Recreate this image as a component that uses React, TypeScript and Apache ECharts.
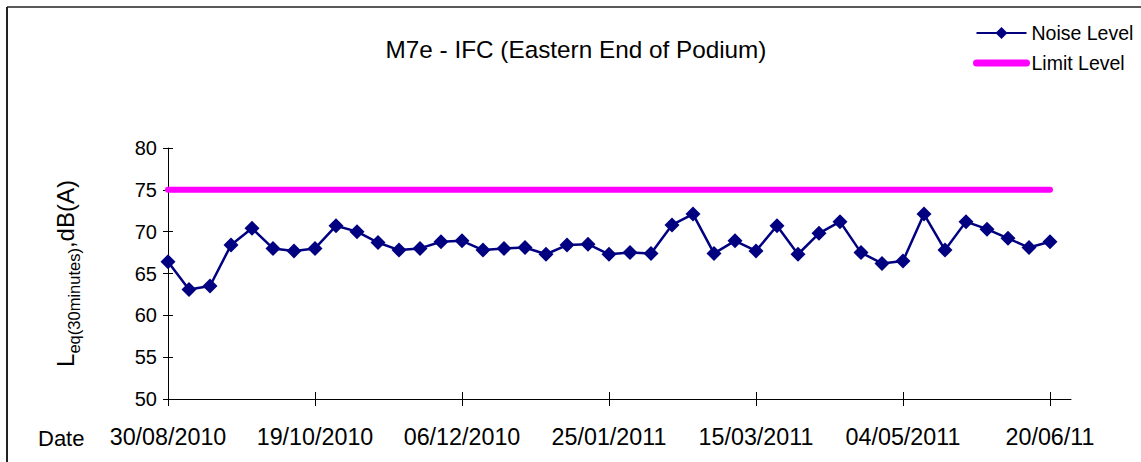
import React, { useEffect, useRef } from 'react';
import * as echarts from 'echarts';

const chartTitle = 'M7e - IFC (Eastern End of Podium)';
const tickLabels = ['30/08/2010', '19/10/2010', '06/12/2010', '25/01/2011', '15/03/2011', '04/05/2011', '20/06/11'];
const weeksPerTick = 7;
const slotCount = 44; // weekly slots on the date axis (43 readings + one empty week)
const weekSlots = Array.from({ length: slotCount }, (_, i) => String(i));

const noiseLevel = [
  66.4, 63.1, 63.5, 68.4, 70.4, 68.0, 67.7, 68.0, 70.7, 70.0,
  68.7, 67.8, 68.0, 68.8, 68.9, 67.8, 68.0, 68.1, 67.3, 68.4,
  68.5, 67.3, 67.5, 67.4, 70.8, 72.1, 67.4, 68.9, 67.7, 70.7,
  67.3, 69.8, 71.2, 67.5, 66.2, 66.5, 72.1, 67.8, 71.2, 70.3,
  69.2, 68.1, 68.8,
];
const limitLevel = 75;
const yTicks = { min: 50, max: 80, interval: 5 };

const FONT = 'Liberation Sans, Arial, sans-serif';

export default function App() {
  const ref = useRef<HTMLDivElement>(null);
  useEffect(() => {
    if (!ref.current) return;
    const chart = echarts.init(ref.current, undefined, { renderer: 'svg' });
    const lastIdx = noiseLevel.length - 1;
    const tickFn = (i: number) => i % weeksPerTick === 0;
    const option: any = {
      animation: false,
      backgroundColor: '#ffffff',
      textStyle: { fontFamily: FONT, color: '#000' },
      grid: { left: 168, right: 70, top: 148, bottom: 63 },
      legend: {
        orient: 'vertical',
        left: 968,
        top: 18,
        itemWidth: 50,
        itemHeight: 15,
        itemGap: 10,
        textStyle: { fontFamily: FONT, fontSize: 19.5, color: '#000' },
        data: [
          { name: 'Noise Level' },
          { name: 'Limit Level', lineStyle: { width: 7, cap: 'round' }, itemStyle: { opacity: 0 } },
        ],
      },
      graphic: [
        { type: 'line', shape: { x1: 7, y1: 7, x2: 7, y2: 470 }, style: { stroke: '#222', lineWidth: 2 } },
        { type: 'line', shape: { x1: 7, y1: 7, x2: 1150, y2: 7 }, style: { stroke: '#222', lineWidth: 1.5 } },
        {
          type: 'text', x: 576, y: 49,
          style: { text: chartTitle, fontSize: 24.3, fontFamily: FONT, fill: '#000', align: 'center', verticalAlign: 'middle' },
        },
        {
          type: 'text', x: 38, y: 438,
          style: { text: 'Date', fontSize: 22, fontFamily: FONT, fill: '#000', align: 'left', verticalAlign: 'middle' },
        },
      ],
      xAxis: [
        {
          type: 'category',
          data: weekSlots,
          boundaryGap: false,
          axisLine: { lineStyle: { color: '#000', width: 1 } },
          axisTick: { show: true, inside: false, length: 7, interval: tickFn, lineStyle: { color: '#000' } },
          axisLabel: {
            interval: tickFn,
            margin: 26,
            fontSize: 23.3,
            fontFamily: FONT,
            color: '#000',
            formatter: (_v: string, i: number) => (i % weeksPerTick === 0 ? tickLabels[i / weeksPerTick] ?? '' : ''),
          },
          splitLine: { show: false },
        },
        {
          type: 'category',
          data: weekSlots,
          boundaryGap: false,
          position: 'bottom',
          axisLine: { show: false },
          axisTick: { show: true, inside: true, length: 7, interval: tickFn, lineStyle: { color: '#000' } },
          axisLabel: { show: false },
          splitLine: { show: false },
        },
      ],
      yAxis: [
        {
          type: 'value',
          min: yTicks.min,
          max: yTicks.max,
          interval: yTicks.interval,
          axisLine: { show: true, lineStyle: { color: '#000', width: 1 } },
          axisTick: { show: true, inside: false, length: 5, lineStyle: { color: '#000' } },
          axisLabel: { margin: 11, fontSize: 20, fontFamily: FONT, color: '#000' },
          splitLine: { show: false },
          name: '{m|L}{s|eq(30minutes)}{m|,dB(A)}',
          nameLocation: 'middle',
          nameRotate: 90,
          nameGap: 86,
          nameTextStyle: {
            fontFamily: FONT,
            color: '#000',
            rich: {
              m: { fontSize: 24, fontFamily: FONT, color: '#000', verticalAlign: 'bottom', lineHeight: 30, padding: [0, 0, 5, 0] },
              s: { fontSize: 16.5, fontFamily: FONT, color: '#000', verticalAlign: 'bottom', lineHeight: 30 },
            },
          },
        },
        {
          type: 'value',
          min: yTicks.min,
          max: yTicks.max,
          interval: yTicks.interval,
          position: 'left',
          axisLine: { show: false },
          axisTick: { show: true, inside: true, length: 5, lineStyle: { color: '#000' } },
          axisLabel: { show: false },
          splitLine: { show: false },
        },
      ],
      series: [
        {
          name: 'Limit Level',
          type: 'line',
          xAxisIndex: 0,
          yAxisIndex: 0,
          data: [[0, limitLevel], [lastIdx, limitLevel]],
          symbol: 'none',
          lineStyle: { color: '#FF00FF', width: 6, cap: 'round' },
          itemStyle: { color: '#FF00FF' },
          z: 2,
        },
        {
          name: 'Noise Level',
          type: 'line',
          xAxisIndex: 0,
          yAxisIndex: 0,
          data: noiseLevel,
          symbol: 'diamond',
          symbolSize: 15,
          showSymbol: true,
          showAllSymbol: true,
          lineStyle: { color: '#000080', width: 2.5 },
          itemStyle: { color: '#000080' },
          z: 3,
        },
      ],
    };
    chart.setOption(option);
    return () => chart.dispose();
  }, []);
  return <div ref={ref} style={{ position: 'fixed', left: 0, top: 0, width: 1141, height: 462, background: '#fff' }} />;
}
